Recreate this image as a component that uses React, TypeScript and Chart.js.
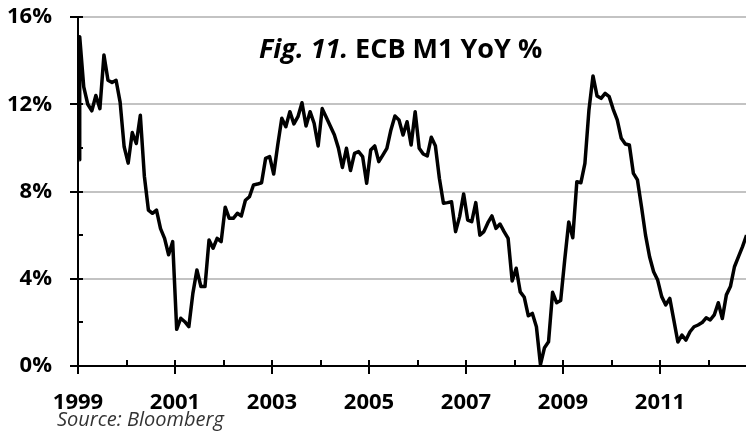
import React, { useEffect, useRef } from "react";
import { Chart, registerables } from "chart.js";

Chart.register(...registerables);

// ECB M1 money supply, year-on-year %, monthly readings from Jan 1999
const firstReading = 9.45;
const m1YoY = [
  15.1, 12.8, 12.0, 11.7, 12.4, 11.8, 14.26, 13.1, 13.0, 13.1, 12.1, 10.05,
  9.3, 10.7, 10.2, 11.5, 8.7, 7.15, 7.0, 7.15, 6.3, 5.85, 5.1, 5.7,
  1.68, 2.19, 2.03, 1.8, 3.33, 4.4, 3.64, 3.64, 5.78, 5.4, 5.85, 5.7,
  7.28, 6.77, 6.77, 7.0, 6.88, 7.6, 7.76, 8.3, 8.34, 8.4, 9.52, 9.6,
  8.8, 10.13, 11.36, 10.97, 11.66, 11.1, 11.43, 12.07, 11.0, 11.66, 11.13, 10.09,
  11.8, 11.4, 11.0, 10.6, 10.0, 9.1, 9.98, 8.96, 9.75, 9.83, 9.6, 8.38,
  9.9, 10.09, 9.37, 9.67, 9.98, 10.82, 11.46, 11.28, 10.59, 11.2, 10.13, 11.66,
  9.98, 9.72, 9.63, 10.49, 10.1, 8.6, 7.46, 7.49, 7.53, 6.16, 6.85, 7.89,
  6.69, 6.62, 7.49, 6.0, 6.16, 6.57, 6.88, 6.31, 6.51, 6.16, 5.85, 3.9,
  4.48, 3.4, 3.15, 2.3, 2.41, 1.8, 0.07, 0.84, 1.11, 3.38, 2.9, 3.0,
  4.86, 6.6, 5.88, 8.45, 8.4, 9.29, 11.74, 13.3, 12.38, 12.27, 12.5, 12.35,
  11.77, 11.28, 10.44, 10.18, 10.13, 8.83, 8.53, 7.3, 6.0, 5.01, 4.32, 3.94,
  3.18, 2.8, 3.1, 2.1, 1.1, 1.42, 1.19, 1.57, 1.8, 1.88, 1.99, 2.21,
  2.11, 2.34, 2.9, 2.18, 3.26, 3.64, 4.55, 5.01, 5.47, 6.0,
];

const startYear = 1999;
const endYear = 2012.773;
const yearTicks = [1999, 2000, 2001, 2002, 2003, 2004, 2005, 2006, 2007, 2008, 2009, 2010, 2011, 2012];
const labeledYears = [1999, 2001, 2003, 2005, 2007, 2009, 2011];
const yTicks = [0, 2, 4, 6, 8, 10, 12, 14, 16];
const yLabeled = [0, 4, 8, 12, 16];

const titleItalic = "Fig. 11.";
const titleMain = " ECB M1 YoY %";
const sourceText = "Source: Bloomberg";

const FONT = "'Open Sans', 'DejaVu Sans', sans-serif";

const axisTicks = {
  id: "axisTicks",
  afterDraw(chart: any) {
    const { ctx, chartArea } = chart;
    const xs = chart.scales.x;
    const ys = chart.scales.y;
    ctx.save();
    ctx.strokeStyle = "#000";
    ctx.lineWidth = 2;
    yearTicks.forEach((v) => {
      const px = Math.round(xs.getPixelForValue(v));
      const major = labeledYears.includes(v);
      ctx.beginPath();
      ctx.moveTo(px, chartArea.bottom - 6);
      ctx.lineTo(px, chartArea.bottom + (major ? 8 : 0));
      ctx.stroke();
    });
    yTicks.forEach((v) => {
      const py = Math.round(ys.getPixelForValue(v));
      const major = yLabeled.includes(v);
      ctx.beginPath();
      ctx.moveTo(chartArea.left - (major ? 8 : 0), py);
      ctx.lineTo(chartArea.left + 5, py);
      ctx.stroke();
    });
    ctx.restore();
  },
};

export default function App() {
  const canvasRef = useRef<HTMLCanvasElement | null>(null);

  useEffect(() => {
    const canvas = canvasRef.current;
    if (!canvas) return;
    const points = [
      { x: startYear + 0.3 / 12, y: firstReading },
      ...m1YoY.map((v, i) => ({ x: startYear + (i + 0.42) / 12, y: v })),
    ];
    const chart = new Chart(canvas, {
      type: "line",
      data: {
        datasets: [
          {
            data: points,
            borderColor: "#000",
            borderWidth: 3.5,
            pointRadius: 0,
            tension: 0,
            borderJoinStyle: "round",
            fill: false,
          },
        ],
      },
      options: {
        animation: false,
        responsive: false,
        devicePixelRatio: 1,
        layout: { padding: { top: 17, right: 0, bottom: 0, left: 0 } },
        plugins: {
          legend: { display: false },
          tooltip: { enabled: false },
          title: { display: false },
        },
        scales: {
          x: {
            type: "linear",
            min: startYear,
            max: endYear,
            afterBuildTicks: (scale: any) => {
              scale.ticks = yearTicks.map((v) => ({ value: v }));
            },
            afterFit: (scale: any) => {
              scale.height = 68;
            },
            grid: { display: true, color: "rgba(0,0,0,0)", drawTicks: false },
            border: { display: true, color: "#000", width: 2 },
            ticks: {
              autoSkip: false,
              maxRotation: 0,
              padding: 24,
              color: "#000",
              font: { family: FONT, size: 22, weight: "bold" },
              callback: (value: any) => (labeledYears.includes(Number(value)) ? String(value) : ""),
            },
          },
          y: {
            type: "linear",
            min: 0,
            max: 16,
            afterBuildTicks: (scale: any) => {
              scale.ticks = yTicks.map((v) => ({ value: v }));
            },
            afterFit: (scale: any) => {
              scale.width = 78;
            },
            grid: {
              drawTicks: true,
              tickLength: 26,
              tickColor: "rgba(0,0,0,0)",
              lineWidth: 2,
              color: (c: any) =>
                c.tick && yLabeled.includes(c.tick.value) && c.tick.value !== 0 ? "#c3c3c3" : "rgba(0,0,0,0)",
            },
            border: { display: true, color: "#000", width: 2 },
            ticks: {
              padding: 0,
              color: "#000",
              font: { family: FONT, size: 22, weight: "bold" },
              callback: (value: any) => (yLabeled.includes(Number(value)) ? value + "%" : ""),
            },
          },
        },
      },
      plugins: [axisTicks],
    } as any);
    return () => chart.destroy();
  }, []);

  return (
    <div style={{ position: "fixed", left: 0, top: 0, width: 746, height: 434, background: "#fff" }}>
      <canvas ref={canvasRef} width={746} height={434} style={{ display: "block" }} />
      <div
        style={{
          position: "absolute",
          left: 259,
          top: 34,
          fontFamily: FONT,
          fontSize: 27,
          lineHeight: "27px",
          fontWeight: 700,
          color: "#000",
          whiteSpace: "nowrap",
        }}
      >
        <span style={{ fontStyle: "italic" }}>{titleItalic}</span>
        <span>{titleMain}</span>
      </div>
      <div
        style={{
          position: "absolute",
          left: 57,
          top: 409,
          fontFamily: FONT,
          fontSize: 20,
          lineHeight: "20px",
          fontStyle: "italic",
          color: "#333",
          whiteSpace: "nowrap",
        }}
      >
        {sourceText}
      </div>
    </div>
  );
}
